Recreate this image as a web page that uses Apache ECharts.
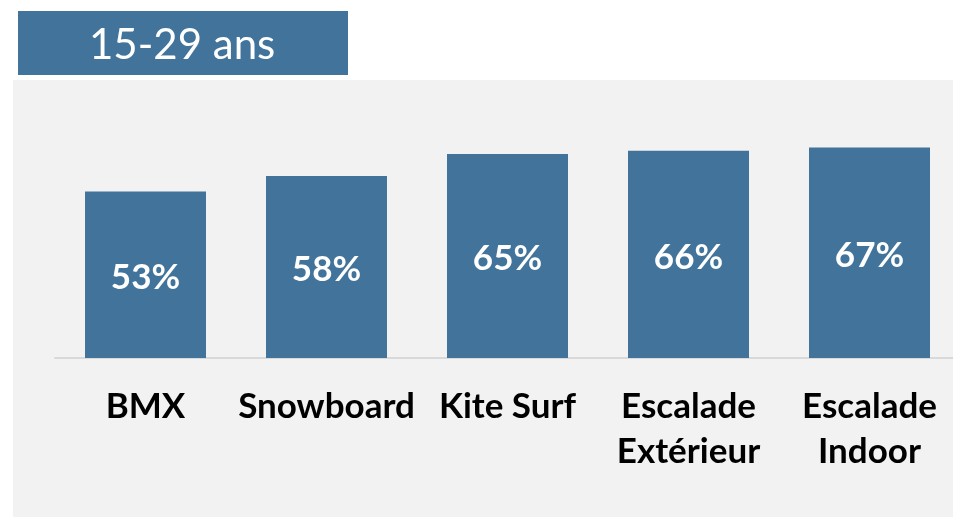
<!DOCTYPE html>
<html><head><meta charset="utf-8">
<script src="https://cdn.jsdelivr.net/npm/echarts@6/dist/echarts.min.js"></script>
<style>html,body{margin:0;padding:0;background:#fff;overflow:hidden}#c{width:960px;height:517px}</style>
</head><body><div id="c"></div>
<script>
const title = '15-29 ans';
const categories = ['BMX', 'Snowboard', 'Kite Surf', 'Escalade\nExtérieur', 'Escalade\nIndoor'];
const values = [53, 58, 65, 66, 67];
const blue = '#41739b';
const chart = echarts.init(document.getElementById('c'), null, {renderer: 'canvas'});
chart.setOption({
  animation: false,
  backgroundColor: '#ffffff',
  graphic: [
    {type: 'rect', shape: {x: 13, y: 80, width: 947, height: 437}, style: {fill: '#f2f2f2'}, z: -10},
    {type: 'rect', shape: {x: 18, y: 11, width: 330, height: 64}, style: {fill: blue}, z: 10},
    {type: 'text', left: 89, top: 24, style: {text: title, fill: '#ffffff', font: '400 42px Lato', }, z: 11}
  ],
  grid: {left: 55, right: 0, top: 44, bottom: 159},
  xAxis: {
    type: 'category', data: categories,
    axisLine: {show: true, lineStyle: {color: '#d9d9d9', width: 2}},
    axisTick: {show: false},
    axisLabel: {color: '#000', fontFamily: 'Lato', fontWeight: 'bold', fontSize: 35, lineHeight: 45, margin: 26, interval: 0}
  },
  yAxis: {type: 'value', min: 0, max: 100, show: false, splitLine: {show: false}},
  series: [{
    type: 'bar', data: values, barWidth: 121,
    itemStyle: {color: blue},
    label: {show: true, position: 'inside', offset: [0, 3], formatter: '{c}%', color: '#fff', fontFamily: 'Lato', fontWeight: 'bold', fontSize: 35}
  }]
});
</script></body></html>
